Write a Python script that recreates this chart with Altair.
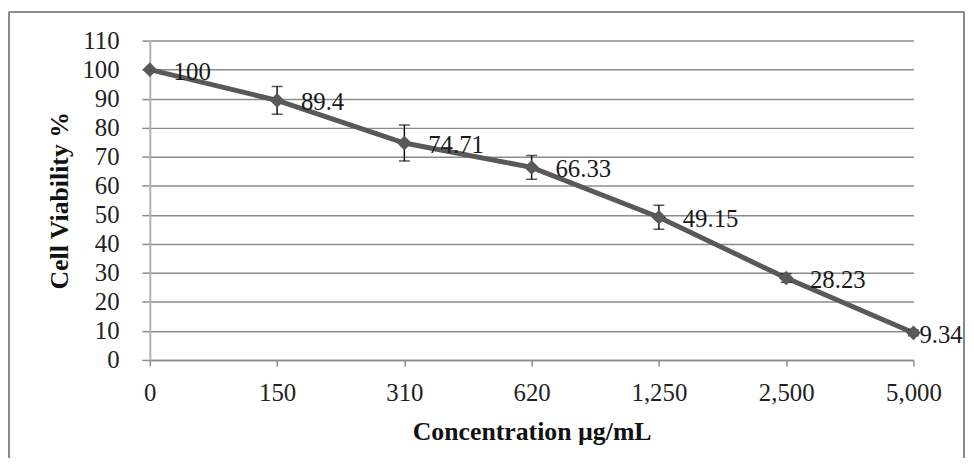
import altair as alt
import pandas as pd

concentrations = ["0", "150", "310", "620", "1,250", "2,500", "5,000"]
viability = [100, 89.4, 74.71, 66.33, 49.15, 28.23, 9.34]
labels = ["100", "89.4", "74.71", "66.33", "49.15", "28.23", "9.34"]
errors = [0, 4.8, 6.2, 4.1, 4.1, 1.5, 1.0]

df = pd.DataFrame({
    "conc": concentrations,
    "v": viability,
    "label": labels,
    "lo": [v - e for v, e in zip(viability, errors)],
    "hi": [v + e for v, e in zip(viability, errors)],
    "idx": list(range(len(concentrations))),
})

FONT = "Liberation Serif"
GRID = "#8c8c8c"
LINE = "#595959"

x_axis = alt.Axis(
    title="Concentration µg/mL",
    labelAngle=0,
    labelFont=FONT,
    labelFontSize=25,
    labelColor="#222222",
    labelPadding=15,
    tickSize=6,
    tickColor=GRID,
    tickWidth=1.5,
    domainColor=GRID,
    domainWidth=1.5,
    grid=False,
    titleFont=FONT,
    titleFontSize=26,
    titleFontWeight="bold",
    titleColor="#111111",
    titleY=80,
    titleBaseline="alphabetic",
)

y_axis = alt.Axis(
    title="Cell Viability %",
    values=list(range(0, 111, 10)),
    labelOverlap=False,
    labelFont=FONT,
    labelFontSize=25,
    labelColor="#222222",
    labelPadding=23,
    tickSize=8,
    tickColor=GRID,
    tickWidth=1.5,
    domainColor="#b0b0b0",
    domainWidth=2,
    grid=True,
    gridColor=GRID,
    gridWidth=1.5,
    titleFont=FONT,
    titleFontSize=26,
    titleFontWeight="bold",
    titleColor="#111111",
    titleAngle=-90,
    titleX=-91,
    titleY=161,
    titleAlign="center",
    titleBaseline="middle",
)

x_scale = alt.Scale(type="point", padding=0)
y_scale = alt.Scale(domain=[0, 110], nice=False)


def X():
    return alt.X("conc:N", sort=concentrations, scale=x_scale, axis=x_axis)


def Y(field):
    return alt.Y(field, type="quantitative", scale=y_scale, axis=y_axis)


base = alt.Chart(df)

frame = base.mark_rect(fill=None, stroke="#8a8a8a", strokeWidth=1, clip=False).encode(
    x=alt.value(-142), x2=alt.value(821), y=alt.value(-29), y2=alt.value(480)
)

line = base.mark_line(color=LINE, strokeWidth=5).encode(x=X(), y=Y("v"))

err = base.mark_rule(color="#111111", strokeWidth=1.5).encode(x=X(), y=Y("lo"), y2="hi:Q")
cap_lo = base.mark_tick(color="#111111", thickness=1.5, size=11, orient="horizontal").encode(
    x=X(), y=Y("lo")
)
cap_hi = base.mark_tick(color="#111111", thickness=1.5, size=11, orient="horizontal").encode(
    x=X(), y=Y("hi")
)

pts = base.mark_point(shape="diamond", filled=True, color=LINE, size=220, opacity=1).encode(
    x=X(), y=Y("v")
)

text_main = base.transform_filter("datum.idx < 6").mark_text(
    align="left", baseline="middle", dx=24, dy=2, font=FONT, fontSize=25, color="#1a1a1a"
).encode(x=X(), y=Y("v"), text="label:N")

text_last = base.transform_filter("datum.idx == 6").mark_text(
    align="left", baseline="middle", dx=6, dy=2, font=FONT, fontSize=25, color="#1a1a1a"
).encode(x=X(), y=Y("v"), text="label:N")

chart = alt.layer(frame, line, err, cap_lo, cap_hi, pts, text_main, text_last).properties(
    width=770,
    height=322,
    padding={"left": 143, "top": 31, "right": 53, "bottom": 97},
    autosize=alt.AutoSizeParams(type="none"),
    background="white",
).configure_view(stroke=None)

chart.save("out.html", embed_options={"renderer": "svg", "actions": False})
